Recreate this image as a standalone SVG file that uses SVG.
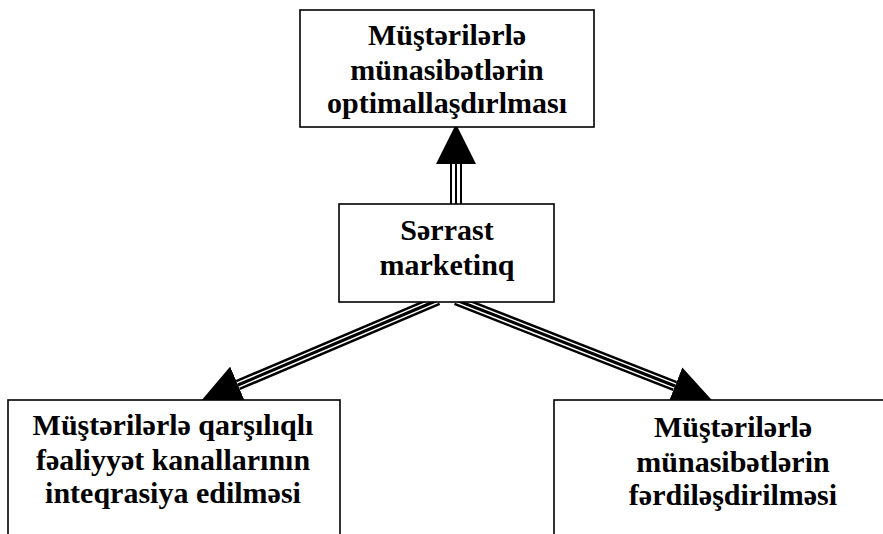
<svg xmlns="http://www.w3.org/2000/svg" width="883" height="534" viewBox="0 0 883 534">
  <style>
    .box { fill: #fff; stroke: #000; stroke-width: 1.6; }
    .lbl { font-family: "Liberation Serif", "Times New Roman", serif; font-weight: bold; font-size: 30px; fill: #000; text-anchor: middle; }
    .outer { fill: none; stroke: #000; stroke-linecap: butt; }
    .gap { fill: none; stroke: #fff; stroke-linecap: butt; }
    .core { fill: none; stroke: #000; stroke-linecap: butt; }
  </style>
  <defs>
    <marker id="head" markerUnits="userSpaceOnUse" markerWidth="40" markerHeight="40" viewBox="0 0 38 38" refX="0" refY="19" orient="auto">
      <path d="M0,0 L38,19 L0,38 Z" fill="#000"/>
    </marker>
  </defs>

  <rect width="883" height="534" fill="#fff"/>

  <g id="connectors">
    <!-- up: Sərrast marketinq to optimisation -->
    <line class="outer" x1="456" y1="204" x2="456" y2="164" stroke-width="12"/>
    <line class="gap" x1="456" y1="204" x2="456" y2="164" stroke-width="8"/>
    <line class="core" x1="456" y1="204" x2="456" y2="164" stroke-width="2" stroke="#333" marker-end="url(#head)"/>

    <!-- down-left: to channel integration -->
    <line class="outer" x1="438" y1="300" x2="238" y2="385" stroke-width="11"/>
    <line class="gap" x1="438" y1="300" x2="238" y2="385" stroke-width="6"/>
    <line class="core" x1="438" y1="300" x2="238" y2="385" stroke-width="3" marker-end="url(#head)"/>

    <!-- down-right: to personalisation -->
    <line class="outer" x1="456" y1="300" x2="675" y2="386" stroke-width="11"/>
    <line class="gap" x1="456" y1="300" x2="675" y2="386" stroke-width="6"/>
    <line class="core" x1="456" y1="300" x2="675" y2="386" stroke-width="3" marker-end="url(#head)"/>
  </g>

  <g id="node-optimization">
    <rect class="box" x="300" y="10" width="294" height="117"/>
    <text class="lbl" x="447" y="45">Müştərilərlə</text>
    <text class="lbl" x="447" y="80">münasibətlərin</text>
    <text class="lbl" x="447" y="113">optimallaşdırlması</text>
  </g>

  <g id="node-center">
    <rect class="box" x="339" y="204" width="215" height="98"/>
    <text class="lbl" x="447" y="240">Sərrast</text>
    <text class="lbl" x="447" y="275">marketinq</text>
  </g>

  <g id="node-integration">
    <rect class="box" x="8" y="400" width="332" height="150"/>
    <text class="lbl" x="173" y="435">Müştərilərlə qarşılıqlı</text>
    <text class="lbl" x="173" y="470">fəaliyyət kanallarının</text>
    <text class="lbl" x="173" y="503">inteqrasiya edilməsi</text>
  </g>

  <g id="node-personalization">
    <rect class="box" x="554" y="400" width="340" height="150"/>
    <text class="lbl" x="733" y="437">Müştərilərlə</text>
    <text class="lbl" x="733" y="472">münasibətlərin</text>
    <text class="lbl" x="733" y="505">fərdiləşdirilməsi</text>
  </g>
</svg>
